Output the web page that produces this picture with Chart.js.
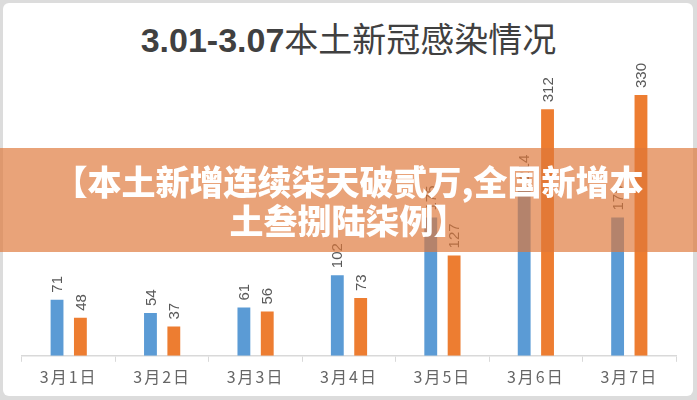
<!DOCTYPE html>
<html>
<head>
<meta charset="utf-8">
<script src="https://cdn.jsdelivr.net/npm/chart.js@4/dist/chart.umd.min.js"></script>
<style>
  html, body { margin: 0; padding: 0; }
  body { width: 697px; height: 400px; background: #dcdcdc; position: relative; overflow: hidden; }
  .panel { position: absolute; left: 3px; top: 3px; right: 4px; bottom: 4px; background: #fff; border-radius: 6px; }
  #wrap { position: absolute; left: 0; top: 0; width: 697px; height: 400px; }
  .title { position: absolute; left: 0; top: 16px; width: 697px; text-align: center; font-size: 34px; color: #404040; line-height: 44px; white-space: nowrap; }
  .title .num { font-family: "Liberation Sans", Arial, sans-serif; font-weight: bold; }
  .title .cjk { font-family: "Noto Sans CJK SC", sans-serif; font-weight: 400; }
  .banner { position: absolute; left: 0; top: 148px; width: 697px; height: 104px; background: rgba(222, 120, 58, 0.68);
            color: #fff; font-family: "Noto Sans CJK SC", sans-serif; font-weight: 900; font-size: 34px; line-height: 39px;
            text-align: center; box-sizing: border-box; padding-top: 13px; white-space: nowrap; }
</style>
</head>
<body>
<div class="panel"></div>
<div class="title"><span class="num">3.01-3.07</span><span class="cjk">本土新冠感染情况</span></div>
<div id="wrap"><canvas id="chart" width="697" height="400"></canvas></div>
<div class="banner">【本土新增连续柒天破贰万,全国新增本<br>土叁捌陆柒例】</div>
<script>
const days = ['3月1日', '3月2日', '3月3日', '3月4日', '3月5日', '3月6日', '3月7日'];
const blueValues = [71, 54, 61, 102, 175, 214, 175];
const orangeValues = [48, 37, 56, 73, 127, 312, 330];

// spaced-out category labels like the original
const spacing = {
  id: 'spacing',
  beforeDraw(chart) { chart.ctx.letterSpacing = '2px'; }
};

// rotated value labels above each bar
const barLabels = {
  id: 'barLabels',
  afterDatasetsDraw(chart) {
    const ctx = chart.ctx;
    ctx.save();
    ctx.letterSpacing = '0px';
    ctx.font = '15px "Liberation Sans", Arial, sans-serif';
    ctx.fillStyle = '#595959';
    ctx.textAlign = 'left';
    ctx.textBaseline = 'middle';
    chart.data.datasets.forEach((ds, i) => {
      chart.getDatasetMeta(i).data.forEach((bar, j) => {
        ctx.save();
        ctx.translate(bar.x + 1, bar.y - 7);
        ctx.rotate(-Math.PI / 2);
        ctx.fillText(String(ds.data[j]), 0, 0);
        ctx.restore();
      });
    });
    ctx.restore();
  }
};

new Chart(document.getElementById('chart'), {
  type: 'bar',
  data: {
    labels: days,
    datasets: [
      { label: '本土确诊', data: blueValues, backgroundColor: '#5B9BD5' },
      { label: '无症状', data: orangeValues, backgroundColor: '#ED7D31' }
    ]
  },
  options: {
    responsive: false,
    animation: false,
    layout: { padding: { left: 22, right: 21, top: 46, bottom: 7 } },
    datasets: { bar: { categoryPercentage: 0.5, barPercentage: 0.55 } },
    plugins: { legend: { display: false }, tooltip: { enabled: false } },
    scales: {
      x: {
        grid: { display: true, drawOnChartArea: false, drawTicks: true, tickLength: 6, color: '#d9d9d9', offset: true },
        border: { display: true, color: '#d9d9d9', width: 1.5 },
        ticks: { color: '#666666', padding: 6, font: { size: 16, family: '"Noto Sans CJK SC", sans-serif' } }
      },
      y: { display: false, min: 0, max: 392 }
    }
  },
  plugins: [spacing, barLabels]
});
</script>
</body>
</html>
